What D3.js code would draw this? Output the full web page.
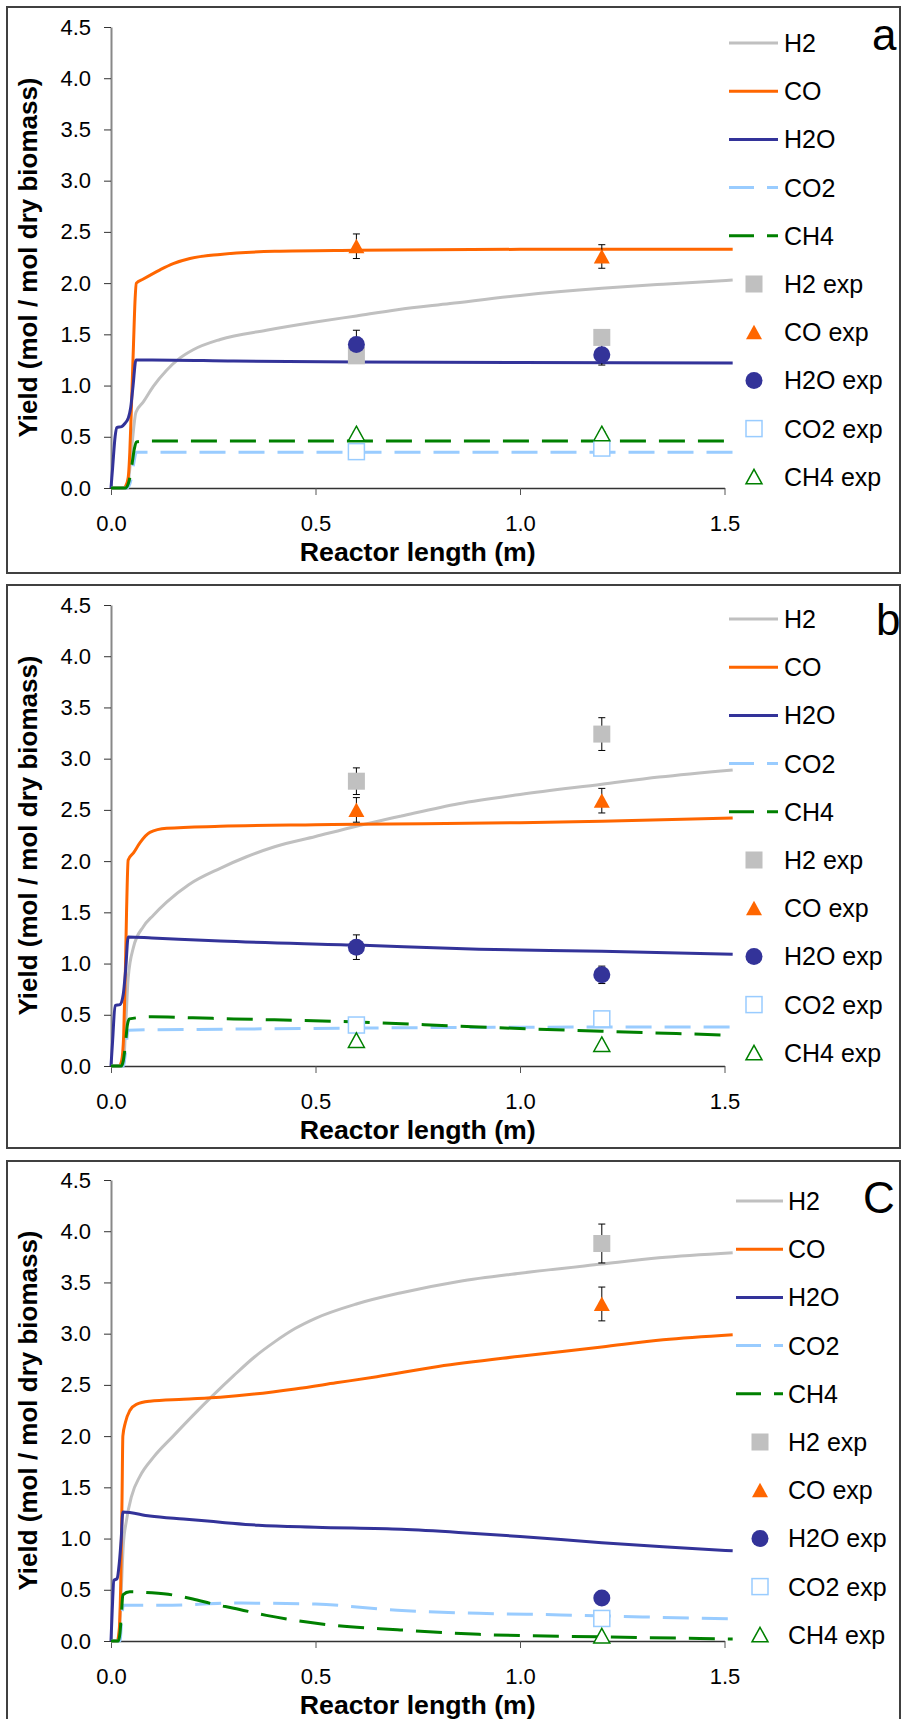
<!DOCTYPE html>
<html>
<head>
<meta charset="utf-8">
<style>
body { margin:0; padding:0; background:#fff; }
svg { display:block; }
text { font-family: "Liberation Sans", Arial, sans-serif; fill:#000; }
</style>
</head>
<body>
<svg id="chart"></svg>
<script src="https://cdn.jsdelivr.net/npm/d3@7/dist/d3.min.js"></script>
<script>

// ---- data ----
var species = ["H2", "CO", "H2O", "CO2", "CH4"];
var colors  = ["#c0c0c0", "#ff6600", "#333399", "#99ccff", "#008000"];
var dashed  = [false, false, false, true, true];
var yTicks  = [0, 0.5, 1.0, 1.5, 2.0, 2.5, 3.0, 3.5, 4.0, 4.5];
var xTicks  = [0, 0.5, 1.0, 1.5];

// panel a : model curves [length m, yield]
var a_H2  = [[0,0],[0.04,0],[0.045,0.15],[0.052,0.45],[0.061,0.74],[0.079,0.84],[0.103,0.99],[0.136,1.15],[0.169,1.27],[0.201,1.35],[0.267,1.45],[0.38,1.54],[0.5,1.62],[0.6,1.68],[0.7,1.74],[0.829,1.80],[1.0,1.88],[1.2,1.95],[1.35,1.99],[1.52,2.03]];
var a_CO  = [[0,0],[0.03,0],[0.036,0.02],[0.042,0.1],[0.046,0.35],[0.05,0.8],[0.055,1.4],[0.059,1.85],[0.062,2.0],[0.079,2.04],[0.12,2.13],[0.152,2.19],[0.193,2.24],[0.267,2.28],[0.4,2.31],[0.6,2.32],[1.0,2.33],[1.52,2.33]];
var a_H2O = [[0,0],[0.004,0.2],[0.01,0.5],[0.014,0.59],[0.026,0.6],[0.034,0.63],[0.042,0.68],[0.048,0.78],[0.054,1.0],[0.061,1.25],[0.1,1.25],[0.3,1.24],[0.6,1.23],[1.0,1.225],[1.52,1.22]];
var a_CO2 = [[0,0],[0.04,0],[0.05,0.1],[0.056,0.25],[0.062,0.35],[1.52,0.35]];
var a_CH4 = [[0,0],[0.035,0],[0.042,0.04],[0.047,0.12],[0.052,0.25],[0.057,0.38],[0.062,0.45],[0.1,0.46],[1.52,0.46]];

// panel b
var b_H2  = [[0,0],[0.03,0],[0.036,0.4],[0.042,0.86],[0.055,1.16],[0.079,1.36],[0.103,1.47],[0.136,1.60],[0.19,1.77],[0.267,1.93],[0.33,2.04],[0.4,2.14],[0.5,2.24],[0.6,2.34],[0.71,2.44],[0.85,2.56],[1.0,2.65],[1.2,2.75],[1.34,2.82],[1.52,2.89]];
var b_CO  = [[0,0],[0.02,0],[0.026,0.05],[0.031,0.3],[0.035,0.9],[0.038,1.5],[0.042,2.01],[0.055,2.08],[0.071,2.18],[0.095,2.28],[0.136,2.32],[0.267,2.34],[0.5,2.355],[0.6,2.36],[1.0,2.375],[1.2,2.39],[1.52,2.42]];
var b_H2O = [[0,0],[0.004,0.25],[0.01,0.59],[0.022,0.6],[0.03,0.7],[0.036,0.95],[0.042,1.26],[0.1,1.25],[0.267,1.22],[0.6,1.18],[0.9,1.14],[1.2,1.12],[1.52,1.09]];
var b_CO2 = [[0,0],[0.03,0],[0.036,0.15],[0.042,0.35],[0.3,0.36],[0.6,0.37],[1.2,0.38],[1.52,0.38]];
var b_CH4 = [[0,0],[0.025,0],[0.03,0.05],[0.035,0.2],[0.04,0.4],[0.045,0.46],[0.1,0.48],[0.2,0.47],[0.3,0.46],[0.6,0.43],[0.9,0.38],[1.2,0.34],[1.52,0.30]];

// panel c
var c_H2  = [[0,0],[0.018,0],[0.024,0.4],[0.03,0.93],[0.038,1.18],[0.05,1.41],[0.071,1.61],[0.103,1.79],[0.152,2.0],[0.2,2.2],[0.25,2.4],[0.3,2.59],[0.35,2.77],[0.4,2.92],[0.45,3.05],[0.5,3.15],[0.6,3.29],[0.71,3.40],[0.85,3.51],[1.0,3.59],[1.2,3.68],[1.34,3.74],[1.52,3.79]];
var c_CO  = [[0,0],[0.015,0],[0.02,0.1],[0.024,0.6],[0.027,1.4],[0.029,2.0],[0.035,2.13],[0.046,2.25],[0.062,2.31],[0.095,2.34],[0.177,2.36],[0.267,2.38],[0.35,2.41],[0.45,2.46],[0.55,2.52],[0.65,2.58],[0.8,2.68],[1.0,2.78],[1.2,2.87],[1.35,2.94],[1.52,2.99]];
var c_H2O = [[0,0],[0.003,0.3],[0.007,0.59],[0.015,0.61],[0.02,0.75],[0.025,1.0],[0.029,1.26],[0.095,1.22],[0.177,1.19],[0.267,1.16],[0.36,1.13],[0.5,1.11],[0.71,1.09],[0.85,1.06],[1.0,1.02],[1.2,0.96],[1.35,0.92],[1.52,0.88]];
var c_CO2 = [[0,0],[0.022,0],[0.026,0.2],[0.03,0.35],[0.15,0.35],[0.3,0.37],[0.5,0.36],[0.7,0.30],[0.9,0.27],[1.1,0.255],[1.3,0.235],[1.52,0.215]];
var c_CH4 = [[0,0],[0.018,0],[0.022,0.08],[0.026,0.3],[0.029,0.45],[0.046,0.48],[0.1,0.47],[0.15,0.45],[0.2,0.41],[0.25,0.36],[0.3,0.32],[0.38,0.25],[0.47,0.19],[0.55,0.15],[0.7,0.11],[0.9,0.065],[1.2,0.04],[1.52,0.02]];

// experiments (values / error), order H2, CO, H2O, CO2, CH4
var expX_a = [0.6, 1.2];
var expVal_a = [[1.29, 1.47], [2.36, 2.26], [1.40, 1.30], [0.355, 0.39], [0.53, 0.53]];
var expErr_a = [[0, 0], [0.12, 0.115], [0.14, 0.10], [0, 0], [0.02, 0.02]];

var expX_b = [0.6, 1.2];
var expVal_b = [[2.78, 3.24], [2.50, 2.59], [1.16, 0.89], [0.40, 0.46], [0.25, 0.21]];
var expErr_b = [[0.13, 0.16], [0.12, 0.12], [0.12, 0.085], [0, 0], [0, 0]];

var expX_c = [1.2];
var expVal_c = [[3.88], [3.29], [0.42], [0.22], [0.05]];
var expErr_c = [[0.19], [0.165], [0], [0], [0]];

// ---- layout ----
var W = 901, H = 1719;
var plotH = 461;

var panels = [
  {label: "a", top: 27,   frameTop: 7,    frameH: 566, curves: [a_H2, a_CO, a_H2O, a_CO2, a_CH4],
   ex: expX_a, ev: expVal_a, ee: expErr_a, legY: 43,   legX0: 729, legX1: 778, legT: 784, legM: 754, labX: 872, labY: 50},
  {label: "b", top: 605,  frameTop: 585,  frameH: 563, curves: [b_H2, b_CO, b_H2O, b_CO2, b_CH4],
   ex: expX_b, ev: expVal_b, ee: expErr_b, legY: 619,  legX0: 729, legX1: 778, legT: 784, legM: 754, labX: 876, labY: 635},
  {label: "C", top: 1180, frameTop: 1161, frameH: 600, curves: [c_H2, c_CO, c_H2O, c_CO2, c_CH4],
   ex: expX_c, ev: expVal_c, ee: expErr_c, legY: 1201, legX0: 736, legX1: 783, legT: 788, legM: 760, labX: 863, labY: 1213}
];

var svg = d3.select("#chart").attr("width", W).attr("height", H);

var x = d3.scaleLinear().domain([0, 1.5]).range([111, 724.5]);

function marker(g, i, cx, cy) {
  if (i == 0) {
    g.append("rect").attr("x", cx - 8.5).attr("y", cy - 8.5).attr("width", 17).attr("height", 17)
      .attr("fill", colors[0]);
  } else if (i == 1) {
    g.append("path").attr("d", "M" + cx + "," + (cy - 7.5) + "L" + (cx + 8) + "," + (cy + 7) + "L" + (cx - 8) + "," + (cy + 7) + "Z")
      .attr("fill", colors[1]);
  } else if (i == 2) {
    g.append("circle").attr("cx", cx).attr("cy", cy).attr("r", 8.5).attr("fill", colors[2]);
  } else if (i == 3) {
    g.append("rect").attr("x", cx - 8).attr("y", cy - 8).attr("width", 16).attr("height", 16)
      .attr("fill", "#fff").attr("stroke", colors[3]).attr("stroke-width", 1.5);
  } else {
    g.append("path").attr("d", "M" + cx + "," + (cy - 7.5) + "L" + (cx + 8) + "," + (cy + 7) + "L" + (cx - 8) + "," + (cy + 7) + "Z")
      .attr("fill", "#fff").attr("stroke", colors[4]).attr("stroke-width", 1.5);
  }
}

panels.forEach(function(p) {
  var g = svg.append("g");
  var y = d3.scaleLinear().domain([0, 4.5]).range([p.top + plotH, p.top]);

  // frame
  g.append("rect").attr("x", 7).attr("y", p.frameTop).attr("width", 893).attr("height", p.frameH)
    .attr("fill", "none").attr("stroke", "#404040").attr("stroke-width", 2);

  // axes
  var ya = g.append("g").attr("transform", "translate(" + x(0) + ",0)")
    .call(d3.axisLeft(y).tickValues(yTicks).tickFormat(d3.format(".1f")).tickSize(7).tickPadding(13).tickSizeOuter(0));
  ya.select(".domain").attr("stroke", "#888").attr("stroke-width", 2);
  ya.selectAll(".tick line").attr("stroke", "#333");
  ya.selectAll("text").style("font-size", "22px").attr("fill", "#000");

  var xa = g.append("g").attr("transform", "translate(0," + y(0) + ")")
    .call(d3.axisBottom(x).tickValues(xTicks).tickFormat(d3.format(".1f")).tickSize(7).tickPadding(20).tickSizeOuter(0));
  xa.select(".domain").attr("stroke", "#333").attr("stroke-width", 1.5);
  xa.selectAll(".tick line").attr("stroke", "#555");
  xa.selectAll("text").style("font-size", "22px").attr("fill", "#000");

  // titles
  g.append("text").attr("x", (x(0) + x(1.5)) / 2).attr("y", y(0) + 64).attr("dy", "0.35em")
    .attr("text-anchor", "middle").style("font-size", "25px").style("font-weight", "bold")
    .attr("textLength", 236).attr("lengthAdjust", "spacingAndGlyphs")
    .text("Reactor length (m)");
  g.append("text").attr("transform", "translate(28," + (p.top + plotH / 2) + ") rotate(-90)")
    .attr("dy", "0.35em").attr("text-anchor", "middle")
    .style("font-size", "25px").style("font-weight", "bold")
    .attr("textLength", 360).attr("lengthAdjust", "spacingAndGlyphs")
    .text("Yield (mol / mol dry biomass)");

  // model lines
  var line = d3.line().x(function(d) { return x(d[0]); }).y(function(d) { return y(d[1]); })
    .curve(d3.curveMonotoneX);
  p.curves.forEach(function(c, i) {
    g.append("path").datum(c).attr("d", line).attr("fill", "none")
      .attr("stroke", colors[i]).attr("stroke-width", 3)
      .attr("stroke-dasharray", dashed[i] ? "26,13" : null);
  });

  // error bars
  p.ev.forEach(function(vals, i) {
    vals.forEach(function(v, j) {
      var e = p.ee[i][j];
      if (!e) return;
      var cx = x(p.ex[j]), y1 = y(v + e), y2 = y(v - e);
      g.append("line").attr("x1", cx).attr("x2", cx).attr("y1", y1).attr("y2", y2).attr("stroke", "#000").attr("stroke-width", 1);
      g.append("line").attr("x1", cx - 3.5).attr("x2", cx + 3.5).attr("y1", y1).attr("y2", y1).attr("stroke", "#000").attr("stroke-width", 1);
      g.append("line").attr("x1", cx - 3.5).attr("x2", cx + 3.5).attr("y1", y2).attr("y2", y2).attr("stroke", "#000").attr("stroke-width", 1);
    });
  });

  // markers
  p.ev.forEach(function(vals, i) {
    vals.forEach(function(v, j) { marker(g, i, x(p.ex[j]), y(v)); });
  });

  // legend
  var step = 48.2;
  species.forEach(function(s, i) {
    var ly = p.legY + i * step;
    g.append("line").attr("x1", p.legX0).attr("x2", p.legX1).attr("y1", ly).attr("y2", ly)
      .attr("stroke", colors[i]).attr("stroke-width", 3)
      .attr("stroke-dasharray", dashed[i] ? "25,13" : null);
    g.append("text").attr("x", p.legT).attr("y", ly).attr("dy", "0.36em").style("font-size", "25px").text(s);
  });
  species.forEach(function(s, i) {
    var ly = p.legY + (i + 5) * step;
    marker(g, i, p.legM, ly);
    g.append("text").attr("x", p.legT).attr("y", ly).attr("dy", "0.36em").style("font-size", "25px").text(s + " exp");
  });

  // panel letter
  g.append("text").attr("x", p.labX).attr("y", p.labY).style("font-size", "44px").text(p.label);
});

</script>
</body>
</html>
